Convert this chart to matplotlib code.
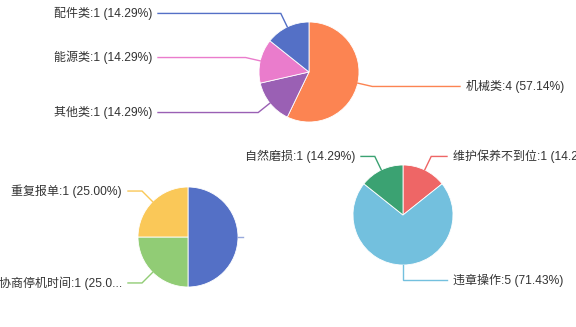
import matplotlib
matplotlib.use("Agg")
import matplotlib.pyplot as plt
import numpy as np

plt.rcParams['font.family'] = ['Liberation Sans', 'Noto Sans CJK SC', 'DejaVu Sans']

# Pie 1
p1_names = ['机械类', '其他类', '能源类', '配件类']
p1_values = [4, 1, 1, 1]
p1_colors = ['#fc8452', '#9a60b4', '#ea7ccc', '#5470c6']

# Pie 2 (first slice label hidden)
p2_names = [None, '协商停机时间', '重复报单']
p2_values = [2, 1, 1]
p2_colors = ['#5470c6', '#91cc75', '#fac858']

# Pie 3
p3_names = ['维护保养不到位', '违章操作', '自然磨损']
p3_values = [1, 5, 1]
p3_colors = ['#ee6666', '#73c0de', '#3ba272']

W, H = 576, 327
fig = plt.figure(figsize=(W / 100, H / 100), dpi=100)
ax = fig.add_axes([0, 0, 1, 1])

R = 50
TEXT_COLOR = '#333333'
FS = 8.64


def draw_pie(names, values, colors, cx, cy, left_x, right_x, truncate=None):
    Y = H - cy
    ax.pie(values, colors=colors, startangle=90, counterclock=False,
           center=(cx, Y), radius=R,
           wedgeprops=dict(edgecolor='white', linewidth=0.6))
    total = sum(values)
    cum = 0
    for name, v, c in zip(names, values, colors):
        mid = cum + v / 2
        cum += v
        ang = np.deg2rad(90 - 360 * mid / total)
        x0, y0 = cx + R * np.cos(ang), Y + R * np.sin(ang)
        x1, y1 = cx + (R + 15) * np.cos(ang), Y + (R + 15) * np.sin(ang)
        if name is None:
            ax.plot([x0, x0 + 5], [y0, y0], color=c, lw=1, alpha=0.6)
            continue
        right = np.cos(ang) >= -1e-9 if abs(np.cos(ang)) > 1e-6 else True
        xe = right_x if right else left_x
        ax.plot([x0, x1, xe], [y0, y1, y1], color=c, lw=1,
                solid_joinstyle='miter')
        txt = f"{name}:{v} ({v / total * 100:.2f}%)"
        if truncate and name in truncate:
            txt = txt[:truncate[name]] + '...'
        if right:
            ax.text(xe + 6, y1, txt, ha='left', va='center',
                    fontsize=FS, color=TEXT_COLOR)
        else:
            ax.text(xe - 6, y1, txt, ha='right', va='center',
                    fontsize=FS, color=TEXT_COLOR)


draw_pie(p1_names, p1_values, p1_colors, 309, 72, 158, 460)
draw_pie(p2_names, p2_values, p2_colors, 188, 237, 128, 250,
         truncate={'协商停机时间': 14})
draw_pie(p3_names, p3_values, p3_colors, 403, 215, 361, 447)

ax.set_xlim(0, W)
ax.set_ylim(0, H)
ax.set_aspect('auto')
ax.axis('off')
fig.savefig('out.png', dpi=100)
